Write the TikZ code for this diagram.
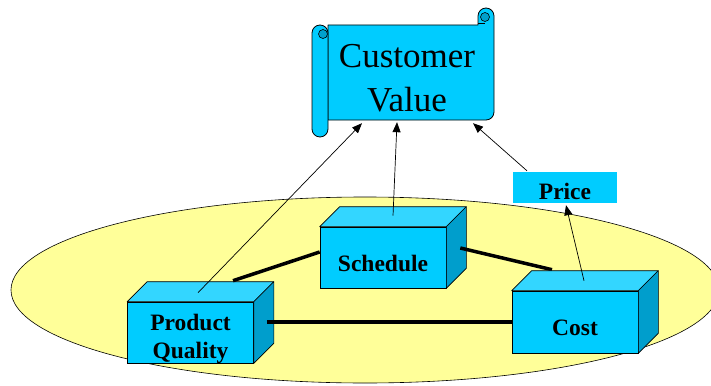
\documentclass[tikz,border=0pt]{standalone}
\usepackage{fontspec}
\setmainfont{Liberation Serif}
\usetikzlibrary{calc,arrows.meta}
\pgfdeclarelayer{background}
\pgfdeclarelayer{front}
\pgfsetlayers{background,main,front}
\definecolor{cfront}{RGB}{0,204,255}
\definecolor{ctop}{RGB}{51,214,255}
\definecolor{cside}{RGB}{0,158,204}
\definecolor{ccurl}{RGB}{0,160,205}
\definecolor{cfield}{RGB}{255,255,153}
\tikzset{
  field/.style={draw=black, line width=0.6pt, fill=cfield},
  scrollshape/.style={draw=black, line width=0.8pt, fill=cfront, line join=round},
  curl/.style={draw=black, line width=0.6pt, fill=ccurl},
  scrollline/.style={draw=black, line width=0.6pt},
  cvbody/.style={draw=none, fill=none, minimum width=166pt, minimum height=95pt, inner sep=0pt},
  cvtext/.style={align=center, inner sep=0pt, font=\fontsize{35}{44}\selectfont},
  cube/.style={draw=black, line width=0.6pt, fill=cfront, inner sep=0pt,
    minimum width=126pt, minimum height=61pt, font=\fontsize{23.5}{28}\selectfont\bfseries},
  cubetext/.style={align=center, inner sep=0pt, font=\fontsize{23.5}{28}\selectfont\bfseries},
  topface/.style={draw=black, line width=0.6pt, fill=ctop, line join=round},
  sideface/.style={draw=black, line width=0.6pt, fill=cside, line join=round},
  pricebox/.style={fill=cfront, draw=none, inner xsep=0pt, inner ysep=0pt,
    minimum width=104pt, text height=27pt, text depth=4pt, font=\fontsize{23.5}{28}\selectfont\bfseries},
  link/.style={draw=black, line width=3.5pt},
  arr/.style={draw=black, line width=0.7pt, -{Triangle[length=10pt,width=8pt]}}
}
\newcommand\cubefaces[1]{%
  \draw[topface] (#1.north west) -- ++(20,-20) -- ($(#1.north east)+(20,-20)$) -- (#1.north east) -- cycle;
  \draw[sideface] (#1.north east) -- ++(20,-20) -- ($(#1.south east)+(20,-20)$) -- (#1.south east) -- cycle;}
\begin{document}
\begin{tikzpicture}[x=1pt,y=-1pt]
\useasboundingbox (0,0) rectangle (711,385);
\begin{pgfonlayer}{background}
\draw[field] (365,290) ellipse [x radius=354, y radius=93];
\end{pgfonlayer}
% scroll
\draw[scrollshape] (328,25) -- (478,25) -- (478,16) arc[start angle=180, end angle=360, radius=8]
  -- (494,112) arc[start angle=0, end angle=90, radius=8] -- (328,120) -- cycle;
\draw[curl] (485,17) circle[radius=4.5];
\draw[scrollline] (478,23) -- (485,23);
\draw[scrollshape] (312,33) -- (312,129) arc[start angle=180, end angle=0, radius=8]
  -- (328,33) arc[start angle=0, end angle=-180, radius=8] -- cycle;
\draw[curl] (323,34) circle[radius=4.5];
\node[cvbody] (cv) at (411,72.5) {};
\node[cvtext] (cvt) at (407,78) {Customer\\Value};
% cubes
\node[cube] (pq) at (190.5,332.5) {};
\cubefaces{pq}
\node[cubetext] (pqt) at (190.5,338.5) {Product\\Quality};
\node[cube, text height=44pt, text depth=17pt] (sched) at (383,257.5) {Schedule};
\cubefaces{sched}
\begin{pgfonlayer}{front}
\node[cube, minimum height=62pt, text height=44.5pt, text depth=17.5pt] (cost) at (575,322) {Cost};
\cubefaces{cost}
\node[pricebox] (price) at (565,187.5) {Price};
\end{pgfonlayer}
% thick links
\draw[link] ($(pq.north)+(42.5,-21)$) -- ($(sched.west)+(0,-5.5)$);
\draw[link] ($(sched.east)+(14,-9.5)$) -- ($(cost.north)+(-23,-21)$);
\draw[link] ($(pq.east)+(13,-10.5)$) -- (cost.west);
% arrows
\begin{pgfonlayer}{front}
\draw[arr] ($(pq.north)+(7.5,-9)$) -- ($(cv.south)+(-49,3)$);
\draw[arr] ($(sched.north)+(10,-11)$) -- ($(cv.south)+(-14,2)$);
\draw[arr] ($(price.north)+(-38,-1)$) -- ($(cv.south)+(62,3)$);
\draw[arr] ($(cost.north)+(9,-10)$) -- ($(price.south)+(1,2)$);
\end{pgfonlayer}
\end{tikzpicture}
\end{document}
